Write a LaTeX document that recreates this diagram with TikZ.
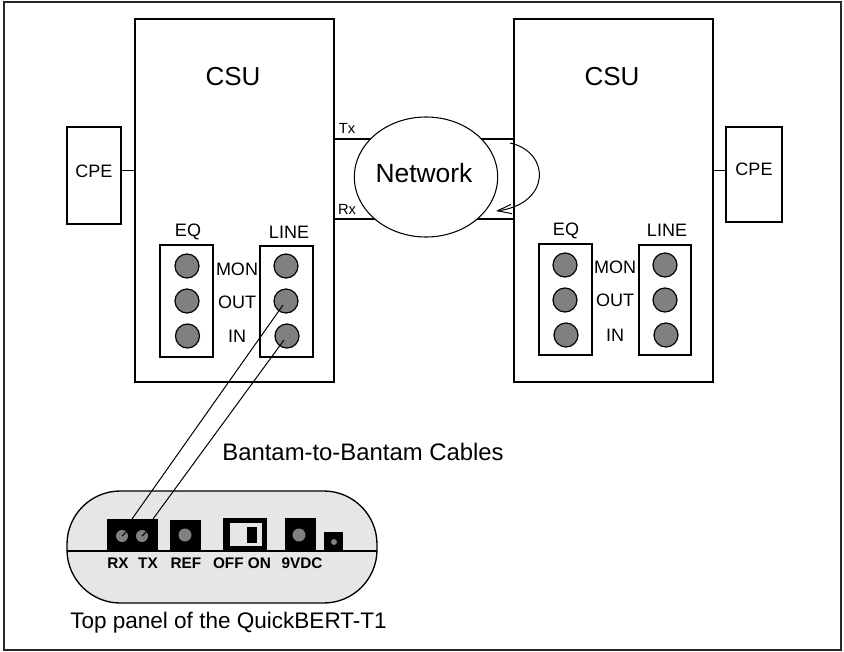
\documentclass[tikz,border=0pt]{standalone}
\usepackage{fontspec}
\setmainfont{Liberation Sans}
\usetikzlibrary{arrows.meta,shapes.geometric}
\newcommand{\bx}[5]{\pgfmathsetmacro{\bxw}{(#4-#2)*0.75}\pgfmathsetmacro{\bxh}{(#5-#3)*0.75}
 \node[boxn,minimum width=\bxw pt,minimum height=\bxh pt] (#1) at ({(#2+#4)/2},{(#3+#5)/2}) {};}
\newcommand{\blk}[5]{\pgfmathsetmacro{\bxw}{(#4-#2)*0.75}\pgfmathsetmacro{\bxh}{(#5-#3)*0.75}
 \node[blackn,minimum width=\bxw pt,minimum height=\bxh pt] (#1) at ({(#2+#4)/2},{(#3+#5)/2}) {};}
\definecolor{gray50}{RGB}{128,128,128}
\definecolor{panelgray}{RGB}{230,230,230}
\tikzset{
 x=0.75pt,y=-0.75pt,
 boxn/.style={draw=black,line width=1.6pt,fill=white,inner sep=0,outer sep=0,rectangle},
 blackn/.style={fill=black,inner sep=0,outer sep=0,rectangle},
 jack/.style={circle,draw=black,line width=0.9pt,fill=gray50,minimum size=18pt,inner sep=0,outer sep=0},
 dial/.style={circle,fill=gray50,inner sep=0,outer sep=0,minimum size=#1*0.75pt},
 wire/.style={line width=1.6pt},
 thin wire/.style={line width=0.75pt},
 big/.style={font=\fontsize{19.5}{21}\selectfont},
 net/.style={font=\fontsize{19.8}{21}\selectfont},
 mid/.style={font=\fontsize{13.5}{15}\selectfont},
 small/.style={font=\fontsize{11}{12}\selectfont},
 captxta/.style={font=\fontsize{17.9}{20}\selectfont},
 captxtb/.style={font=\fontsize{16.9}{20}\selectfont},
 lbl/.style={font=\fontsize{11.5}{12}\selectfont\bfseries},
}
\begin{document}
\begin{tikzpicture}
\useasboundingbox (0,0) rectangle (844,651);
\node[draw=black!85,line width=1.7pt,inner sep=0,outer sep=0,minimum width=628pt,minimum height=486pt] (frame) at (422.5,326) {};
\bx{csuL}{135}{19}{334}{382}
\bx{csuR}{514}{19}{713}{382}
\bx{cpeL}{67}{127}{121}{224}
\bx{cpeR}{726}{127}{782}{222}
\node[big] (csuLt) at (233,77) {CSU};
\node[big] (csuRt) at (612,77) {CSU};
\node[mid] (cpeLt) at (94,171) {CPE};
\node[mid] (cpeRt) at (754,169) {CPE};
\coordinate (lcL) at (121,170); \coordinate (lcR) at (726,170.5);
\draw[thin wire] (lcL) -- (lcL -| csuL.west);
\draw[thin wire] (lcR) -- (lcR -| csuR.east);
% network
\coordinate (tx) at (424,139); \coordinate (rx) at (424,219);
\draw[wire] (tx -| csuL.east) -- (tx -| csuR.west);
\draw[wire] (rx -| csuL.east) -- (rx -| csuR.west);
\node[draw=black,line width=0.8pt,fill=white,ellipse,inner sep=0,outer sep=0,minimum width=107.5pt,minimum height=90pt] (network) at (426,177) {};
\node[small] (txt) at (347,128) {Tx};
\node[small] (rxt) at (347,209) {Rx};
\coordinate (loopA) at (510,143); \coordinate (loopB) at (496,211);
\draw[thin wire,-{Straight Barb[length=10.5pt,width=7pt]}] (loopA) .. controls (551,152) and (551,204) .. (loopB);
% left jacks
\bx{eqL}{160}{245}{213}{357}
\bx{lineL}{260}{246}{313}{357}
\node[mid] (eqLt) at (188,232) {EQ};
\node[mid] (lineLt) at (289,232) {LINE};
\node[jack] (l1) at (187,266) {}; \node[jack] (l2) at (187,301) {}; \node[jack] (l3) at (187.5,336) {};
\node[jack] (l4) at (286,266) {}; \node[jack] (l5) at (286,301) {}; \node[jack] (l6) at (287,336) {};
\node[mid] (m1) at (237,269) {MON}; \node[mid] (m2) at (237,302) {OUT}; \node[mid] (m3) at (237,336) {IN};
% right jacks
\bx{eqR}{539}{244}{592}{355}
\bx{lineR}{639}{245}{691}{355}
\node[mid] (eqRt) at (566,231) {EQ};
\node[mid] (lineRt) at (667,230) {LINE};
\node[jack] (r1) at (565,265) {}; \node[jack] (r2) at (565,300) {}; \node[jack] (r3) at (566,335) {};
\node[jack] (r4) at (665,265) {}; \node[jack] (r5) at (665,300) {}; \node[jack] (r6) at (666,335) {};
\node[mid] (n1) at (615,267) {MON}; \node[mid] (n2) at (615,300) {OUT}; \node[mid] (n3) at (615,335) {IN};
% panel
\node[draw=black,line width=1pt,fill=panelgray,rounded corners=40pt,inner sep=0,outer sep=0,minimum width=232.5pt,minimum height=84pt] (panel) at (222,547) {};
\coordinate (split) at (222,551);
\draw[line width=1.1pt] (split -| panel.west) -- (split -| panel.east);
\blk{rxtx}{107}{519}{158}{551}
\blk{ref}{170}{520}{201}{551}
\blk{sw}{223}{518}{267}{551}
\node[fill=panelgray,inner sep=0,minimum width=24pt,minimum height=17pt] (swin) at (246,534.5) {};
\blk{swk}{247}{527}{257}{543}
\blk{pwr}{285}{518}{316}{551}
\blk{tiny}{324}{532}{343}{551}
\node[dial=12] (d1) at (122,536) {}; \node[dial=12] (d2) at (142,536) {};
\draw[black,line width=0.8pt] (d1.center) -- (d1.north east);
\draw[black,line width=0.8pt] (d2.center) -- (d2.north east);
\node[dial=13] (d3) at (185,535) {};
\node[dial=13] (d4) at (299,535) {};
\node[dial=6] (d5) at (334,542) {};
\node[lbl] (p1) at (118,563) {RX};
\node[lbl] (p2) at (148,563) {TX};
\node[lbl] (p3) at (186,563) {REF};
\node[lbl] (p4) at (242,563) {OFF ON};
\node[lbl] (p6) at (302,563) {9VDC};
\coordinate (c1) at (132,519); \coordinate (c2) at (153,519);
\draw[thin wire] (l5.center) ++(-3,4) -- (c1);
\draw[thin wire] (l6.center) ++(-3,4) -- (c2);
\node[net] (nett) at (424,173) {Network};
\node[captxta] (bant) at (363,452) {Bantam-to-Bantam Cables};
\node[captxtb] (top) at (228.5,622.5) {Top panel of the QuickBERT-T1};
\end{tikzpicture}
\end{document}
